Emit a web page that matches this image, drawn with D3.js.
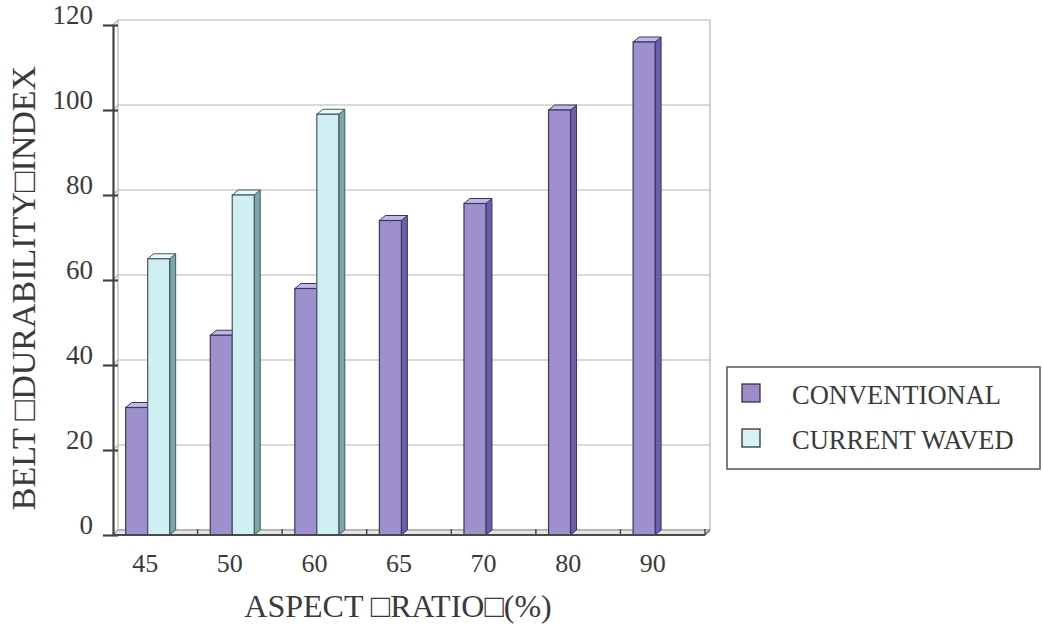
<!DOCTYPE html>
<html>
<head>
<meta charset="utf-8">
<script src="https://cdn.jsdelivr.net/npm/d3@7"></script>
<style>
  html, body { margin: 0; padding: 0; background: #ffffff; }
  svg { display: block; }
  text { font-family: "Liberation Serif", "Times New Roman", serif; fill: #3a3a3a; }
</style>
</head>
<body>
<svg id="chart" width="1043" height="627"></svg>
<script>
// ---- data ----
const categories = ["45", "50", "60", "65", "70", "80", "90"];
const conventional = [30, 47, 58, 74, 78, 100, 116];
const currentWaved = [65, 80, 99, null, null, null, null];
const seriesNames = ["CONVENTIONAL", "CURRENT WAVED"];
const yTicks = [0, 20, 40, 60, 80, 100, 120];
const xTitle = "ASPECT \u25A1RATIO\u25A1(%)";
const yTitle = "BELT \u25A1DURABILITY\u25A1INDEX";

(function () {
// ---- layout ----
const svg = d3.select("#chart");
const pLeft = 113, pRight = 705, pTop = 25, pBottom = 535;
const dx = 5, dy = 5;          // depth of back wall
const bdx = 6, bdy = 5;        // depth of bars

const y = d3.scaleLinear().domain([0, 120]).range([pBottom, pTop]);
const x = d3.scaleBand().domain(categories).range([pLeft, pRight]).padding(0);
const bw = x.bandwidth();
const inner = d3.scaleBand().domain(seriesNames).range([bw * 0.15, bw * 0.67]).padding(0);

const styles = {
  "CONVENTIONAL": { front: "#9e8fcd", top: "#c2b8e7", side: "#6a5ea4", stroke: "#3b3562", swatch: "#9d8ccc" },
  "CURRENT WAVED": { front: "#d0eff3", top: "#e9f8fa", side: "#7ea5ab", stroke: "#3e5a60", swatch: "#d6f2f5" }
};

// ---- walls & gridlines ----
const grid = svg.append("g").attr("stroke", "#b3b3b3").attr("stroke-width", 1.2).attr("fill", "none");
grid.selectAll("line.h").data(yTicks).join("line")
  .attr("x1", pLeft + dx).attr("x2", pRight + dx)
  .attr("y1", d => y(d) - dy).attr("y2", d => y(d) - dy);
grid.selectAll("line.d").data(yTicks).join("line")
  .attr("x1", pLeft).attr("x2", pLeft + dx)
  .attr("y1", d => y(d)).attr("y2", d => y(d) - dy);
grid.append("line").attr("x1", pLeft + dx).attr("x2", pLeft + dx).attr("y1", y(120) - dy).attr("y2", y(0) - dy);
grid.append("line").attr("x1", pRight + dx).attr("x2", pRight + dx).attr("y1", y(120) - dy).attr("y2", y(0) - dy);

// floor
svg.append("path")
  .attr("d", `M${pLeft},${y(0)} L${pLeft + dx},${y(0) - dy} L${pRight + dx},${y(0) - dy} L${pRight},${y(0)} Z`)
  .attr("fill", "#e4e4e4").attr("stroke", "#8a8a8a").attr("stroke-width", 1);

// ---- bars ----
function drawBar(g, x0, w, v, st) {
  const yt = y(v), yb = y(0);
  g.append("path")
    .attr("d", `M${x0 + w},${yt} L${x0 + w + bdx},${yt - bdy} L${x0 + w + bdx},${yb - bdy} L${x0 + w},${yb} Z`)
    .attr("fill", st.side).attr("stroke", st.stroke).attr("stroke-width", 1);
  g.append("path")
    .attr("d", `M${x0},${yt} L${x0 + bdx},${yt - bdy} L${x0 + w + bdx},${yt - bdy} L${x0 + w},${yt} Z`)
    .attr("fill", st.top).attr("stroke", st.stroke).attr("stroke-width", 1);
  g.append("rect")
    .attr("x", x0).attr("y", yt).attr("width", w).attr("height", yb - yt)
    .attr("fill", st.front).attr("stroke", st.stroke).attr("stroke-width", 1.2);
}
const barsG = svg.append("g");
categories.forEach((c, i) => {
  [[seriesNames[0], conventional[i]], [seriesNames[1], currentWaved[i]]].forEach(([s, v]) => {
    if (v == null) return;
    drawBar(barsG.append("g"), x(c) + inner(s), inner.bandwidth(), v, styles[s]);
  });
});

// ---- x axis (front floor edge) ----
svg.append("line").attr("x1", pLeft).attr("x2", pRight).attr("y1", y(0)).attr("y2", y(0))
  .attr("stroke", "#4a4a4a").attr("stroke-width", 2.2);
svg.append("line").attr("x1", pRight).attr("x2", pRight + dx).attr("y1", y(0)).attr("y2", y(0) - dy)
  .attr("stroke", "#6a6a6a").attr("stroke-width", 1.5);
svg.selectAll("line.xt").data(categories.slice(1).concat(["end"])).join("line")
  .attr("x1", d => d === "end" ? pRight : x(d)).attr("x2", d => d === "end" ? pRight : x(d))
  .attr("y1", y(0)).attr("y2", y(0) - 6)
  .attr("stroke", "#4a4a4a").attr("stroke-width", 1.5);

const xAxis = svg.append("g").attr("transform", `translate(0,${y(0)})`)
  .call(d3.axisBottom(x).tickSize(0).tickPadding(0));
xAxis.select(".domain").remove();
xAxis.selectAll("text")
  .attr("x", -10).attr("y", 37).attr("dy", 0)
  .style("font-size", "26px").style("fill", "#3a3a3a")
  .style("font-family", "'Liberation Serif', serif");

// ---- y axis ----
const yAxis = svg.append("g").attr("transform", `translate(${pLeft},0)`)
  .call(d3.axisLeft(y).tickValues(yTicks).tickSizeInner(10).tickSizeOuter(0).tickPadding(10));
yAxis.select(".domain").attr("stroke", "#444").attr("stroke-width", 2.2);
yAxis.selectAll(".tick line").attr("x1", 5).attr("x2", -10).attr("stroke", "#444").attr("stroke-width", 2.2);
yAxis.selectAll(".tick text")
  .attr("y", -10)
  .style("font-size", "27px").style("fill", "#3a3a3a")
  .style("font-family", "'Liberation Serif', serif");

// ---- titles ----
svg.append("text").attr("x", 398).attr("y", 617).attr("text-anchor", "middle")
  .style("font-size", "32px").text(xTitle);
svg.append("text").attr("transform", "translate(35,288) rotate(-90)").attr("text-anchor", "middle")
  .style("font-size", "34px").text(yTitle);

// ---- legend ----
const lg = svg.append("g");
lg.append("rect").attr("x", 727).attr("y", 367).attr("width", 313).attr("height", 102)
  .attr("fill", "#ffffff").attr("stroke", "#555").attr("stroke-width", 1.5);
const items = lg.selectAll("g.item").data(seriesNames).join("g")
  .attr("transform", (d, i) => `translate(742,${384 + i * 45})`);
items.append("rect").attr("width", 18).attr("height", 18)
  .attr("fill", d => styles[d].swatch).attr("stroke", "#333").attr("stroke-width", 1.3);
items.append("text").attr("x", 50).attr("y", 20).style("font-size", "26.5px").text(d => d);
})();
</script>
</body>
</html>
